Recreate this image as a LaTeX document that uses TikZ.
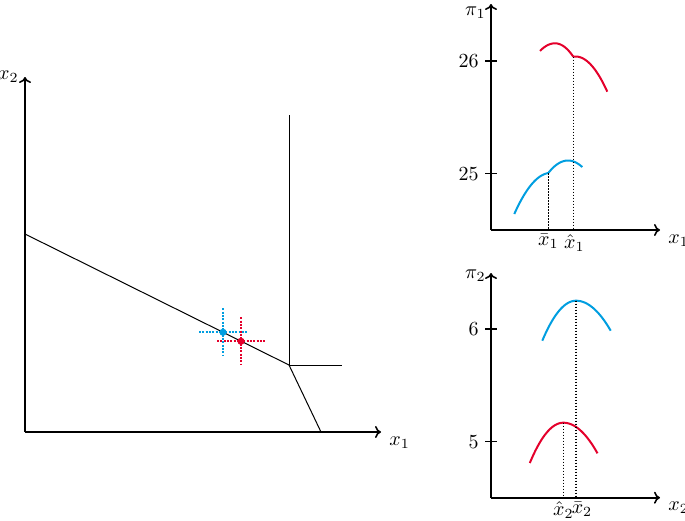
\documentclass[tikz,border=0pt]{standalone}
\usetikzlibrary{arrows.meta}
\definecolor{bluec}{RGB}{0,158,224}
\definecolor{redc}{RGB}{228,0,43}
\begin{document}
\begin{tikzpicture}[x=0.5pt,y=-0.5pt,
  axis/.style={line width=0.8pt,-{To[length=3pt,width=6pt]}},
  thinline/.style={line width=0.5pt},
  curve/.style={line width=1pt},
  dropline/.style={line width=0.75pt,dash pattern=on 0.75pt off 0.75pt},
  cross/.style={line width=1pt,dash pattern=on 1pt off 0.65pt},
  tickmark/.style={line width=0.6pt},
  lbl/.style={inner sep=2pt}]
\path[use as bounding box] (0,0) rectangle (685,520);

% ---------- main plot ----------
\coordinate (O) at (25,432);
\coordinate (XE) at (381,432);
\coordinate (YE) at (25,77);
\coordinate (A) at (25,234);
\coordinate (K) at (289,365);
\coordinate (B) at (321,432);
\coordinate (T) at (289,115);
\coordinate (R) at (342,365);
\draw[axis] (O) -- (XE);
\draw[axis] (O) -- (YE);
\node[lbl,anchor=east] (lx2) at ([xshift=-1pt]YE) {$x_2$};
\node[lbl,anchor=north west] (lx1) at ([xshift=2pt]XE) {$x_1$};
\draw[thinline] (A) -- (K) -- (B);
\draw[thinline] (T) -- (K) -- (R);

\coordinate (PB) at (223,332.3);
\coordinate (PR) at (241,341.3);
\draw[cross,bluec] ([xshift=-12pt]PB) -- ([xshift=12pt]PB);
\draw[cross,bluec] ([yshift=12pt]PB) -- ([yshift=-12pt]PB);
\draw[cross,redc] ([xshift=-12pt]PR) -- ([xshift=12pt]PR);
\draw[cross,redc] ([yshift=12pt]PR) -- ([yshift=-12pt]PR);
\fill[bluec] (PB) circle (1.8pt);
\fill[redc] (PR) circle (1.8pt);

% ---------- upper right plot ----------
\coordinate (O1) at (491,230);
\coordinate (X1E) at (660,230);
\coordinate (Y1E) at (491,4);
\draw[axis] (O1) -- (X1E);
\draw[axis] (O1) -- (Y1E);
\node[lbl,anchor=base east] (lpi1) at (490,15) {$\pi_1$};
\node[lbl,anchor=north west] (lx1b) at ([xshift=2pt]X1E) {$x_1$};
\coordinate (t26) at (491,61);
\coordinate (t25) at (491,173.7);
\draw[tickmark] ([xshift=-3pt]t26) -- ([xshift=3pt]t26);
\draw[tickmark] ([xshift=-3pt]t25) -- ([xshift=3pt]t25);
\node[lbl,anchor=east] (l26) at ([xshift=-4pt]t26) {26};
\node[lbl,anchor=east] (l25) at ([xshift=-4pt]t25) {25};

\draw[curve,redc] plot[domain=540:555,samples=20] (\x,{43.3+0.034*(\x-555)^2})
  -- plot[domain=555:573.3,samples=20] (\x,{43.3+0.04*(\x-555)^2});
\draw[curve,redc] plot[domain=573.3:607.3,samples=30] (\x,{56.5+0.0348*(\x-575.5)^2});
\draw[curve,bluec] plot[domain=514.3:548.3,samples=30] (\x,{172.8+0.0306*(\x-551)^2});
\draw[curve,bluec] plot[domain=548.3:582.3,samples=30] (\x,{160.5+0.0322*(\x-568)^2});

\coordinate (kb) at (548.3,173);
\coordinate (kbA) at (548.3,230);
\coordinate (kr) at (573.3,56.7);
\coordinate (krA) at (573.3,230);
\draw[dropline] (kb) -- (kbA);
\draw[dropline] (kr) -- (krA);
\node[lbl,anchor=north] (lxbar1) at (kbA) {$\bar{x}_1$};
\node[lbl,anchor=north] (lxhat1) at ([xshift=0.5pt]krA) {$\hat{x}_1$};

% ---------- lower right plot ----------
\coordinate (O2) at (491,497.7);
\coordinate (X2E) at (660,497.7);
\coordinate (Y2E) at (491,273);
\draw[axis] (O2) -- (X2E);
\draw[axis] (O2) -- (Y2E);
\node[lbl,anchor=base east] (lpi2) at (490,278) {$\pi_2$};
\node[lbl,anchor=north west] (lx2b) at ([xshift=2pt]X2E) {$x_2$};
\coordinate (t6) at (491,329);
\coordinate (t5) at (491,441.7);
\draw[tickmark] ([xshift=-3pt]t6) -- ([xshift=3pt]t6);
\draw[tickmark] ([xshift=-3pt]t5) -- ([xshift=3pt]t5);
\node[lbl,anchor=east] (l6) at ([xshift=-4pt]t6) {6};
\node[lbl,anchor=east] (l5) at ([xshift=-4pt]t5) {5};

\draw[curve,bluec] plot[domain=542.3:576,samples=30] (\x,{300.7+0.0352*(\x-576)^2})
  -- plot[domain=576:610.7,samples=30] (\x,{300.7+0.0249*(\x-576)^2});
\draw[curve,redc] plot[domain=529.8:563.3,samples=30] (\x,{422.7+0.0359*(\x-563.3)^2})
  -- plot[domain=563.3:597.5,samples=30] (\x,{422.7+0.0262*(\x-563.3)^2});

\coordinate (pb2) at (576,300.7);
\coordinate (pb2A) at (576,497.7);
\coordinate (pr2) at (563.3,422.7);
\coordinate (pr2A) at (563.3,497.7);
\draw[dropline] (pb2) -- (pb2A);
\draw[dropline] (pr2) -- (pr2A);
\node[lbl,anchor=north] (lxhat2) at (pr2A) {$\hat{x}_2$};
\node[lbl,anchor=north] (lxbar2) at ([xshift=3pt]pb2A) {$\bar{x}_2$};
\end{tikzpicture}
\end{document}
